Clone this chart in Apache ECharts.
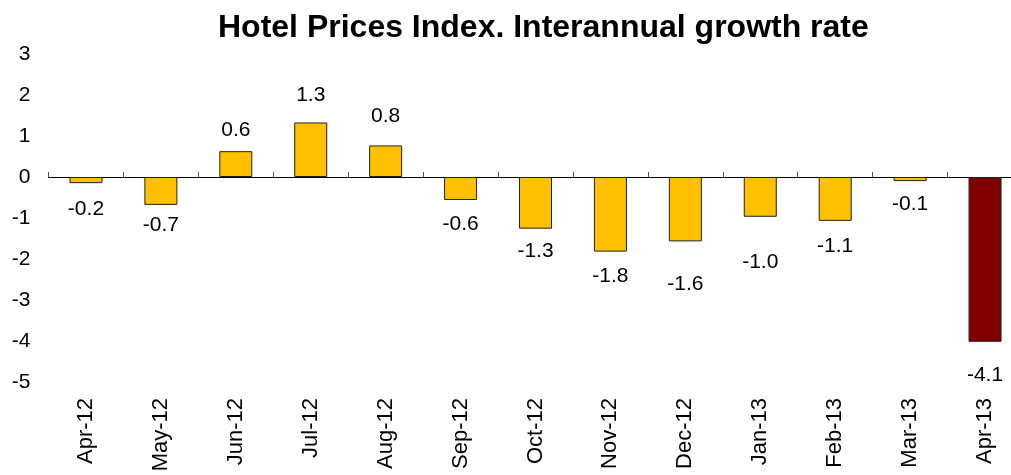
<!DOCTYPE html>
<html>
<head>
<meta charset="utf-8">
<script src="https://cdn.jsdelivr.net/npm/echarts@6/dist/echarts.min.js"></script>
<style>
html,body{margin:0;padding:0;background:#fff;}
#chart{width:1011px;height:475px;}
</style>
</head>
<body>
<div id="chart"></div>
<script>
// ---- data ----
var categories = ['Apr-12','May-12','Jun-12','Jul-12','Aug-12','Sep-12','Oct-12','Nov-12','Dec-12','Jan-13','Feb-13','Mar-13','Apr-13'];
var values = [-0.15, -0.68, 0.63, 1.33, 0.77, -0.56, -1.26, -1.82, -1.57, -0.97, -1.07, -0.10, -4.02];
var valueLabels = ['-0.2','-0.7','0.6','1.3','0.8','-0.6','-1.3','-1.8','-1.6','-1.0','-1.1','-0.1','-4.1'];
var yTicks = [-5, -4, -3, -2, -1, 0, 1, 2, 3];

// ---- styling (label gaps from bar ends, not data) ----
var labelGap = [16, 10, 10, 17, 19, 14, 12, 14, 32, 35, 15, 13, 23];
var highlightIndex = 12;
var FONT = 'Liberation Sans, Arial, sans-serif';

var seriesData = values.map(function (v, i) {
  return {
    value: v,
    itemStyle: { color: i === highlightIndex ? '#800000' : '#FFC000' },
    label: { position: v >= 0 ? 'top' : 'bottom', distance: labelGap[i] }
  };
});

var chart = echarts.init(document.getElementById('chart'), null, { renderer: 'canvas' });
chart.setOption({
  animation: false,
  backgroundColor: '#ffffff',
  textStyle: { fontFamily: FONT },
  title: {
    text: 'Hotel Prices Index. Interannual growth rate',
    left: 213,
    top: 7,
    textStyle: { fontSize: 32, fontWeight: 'bold', color: '#000', fontFamily: FONT }
  },
  grid: { left: 48.5, top: 54, width: 974, height: 328, outerBoundsMode: 'none', containLabel: false },
  xAxis: [
    {
      type: 'category',
      data: categories,
      position: 'bottom',
      axisLine: { show: true, onZero: true, lineStyle: { color: '#000', width: 1 } },
      axisTick: { show: true, inside: true, length: 5, lineStyle: { color: '#555' } },
      axisLabel: { show: false },
      splitLine: { show: false }
    },
    {
      type: 'category',
      data: categories,
      position: 'bottom',
      axisLine: { show: false, onZero: false },
      axisTick: { show: false },
      axisLabel: { show: true, rotate: 90, fontSize: 22, color: '#000', margin: 16, interval: 0, fontFamily: FONT },
      splitLine: { show: false }
    }
  ],
  yAxis: {
    type: 'value',
    min: yTicks[0],
    max: yTicks[yTicks.length - 1],
    interval: 1,
    axisLine: { show: false },
    axisTick: { show: false },
    splitLine: { show: false },
    axisLabel: { fontSize: 21, color: '#000', margin: 18, fontFamily: FONT }
  },
  series: [{
    type: 'bar',
    xAxisIndex: 0,
    data: seriesData,
    barWidth: 33,
    itemStyle: { borderColor: '#222', borderWidth: 1 },
    label: {
      show: true,
      fontSize: 21,
      color: '#000',
      fontFamily: FONT,
      formatter: function (p) { return valueLabels[p.dataIndex]; }
    }
  }]
});
</script>
</body>
</html>
